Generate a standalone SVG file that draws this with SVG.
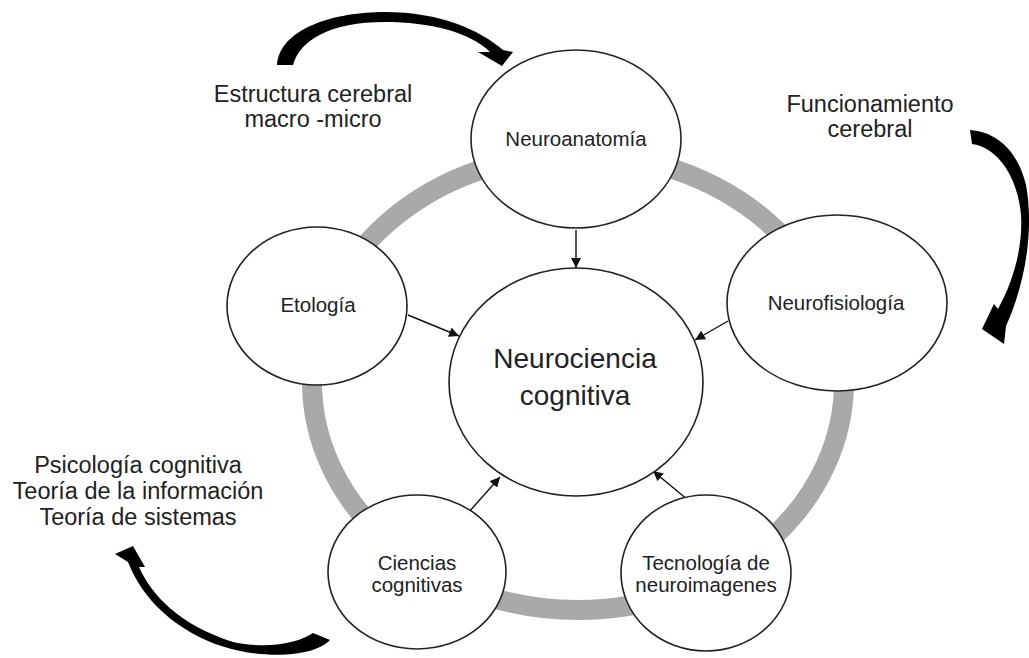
<svg xmlns="http://www.w3.org/2000/svg" width="1029" height="658" viewBox="0 0 1029 658">
  <defs>
    <marker id="head" viewBox="0 0 10 10" refX="10" refY="5" markerWidth="10" markerHeight="10" markerUnits="userSpaceOnUse" orient="auto">
      <path d="M0,0 L10,5 L0,10 Z" fill="#111"/>
    </marker>
  </defs>
  <style>
    .node { fill: #fff; stroke: #222; stroke-width: 1.6; }
    .lbl { font-family: "Liberation Sans", Arial, sans-serif; fill: #222; text-anchor: middle; }
    .small { font-size: 20.5px; }
    .side { font-size: 23.5px; }
    .big { font-size: 28px; }
    .link { stroke: #111; stroke-width: 1.4; fill: none; marker-end: url(#head); }
    .swoosh { fill: #000; }
  </style>
  <rect width="1029" height="658" fill="#fff"/>

  <!-- grey ring behind the nodes -->
  <ellipse cx="578" cy="382" rx="266" ry="228" fill="none" stroke="#a9a9a9" stroke-width="20"/>

  <!-- big curved arrows -->
  <g id="swooshes">
    <path class="swoosh" d="M277,65 C280,28 335,12 385,12 C440,12 480,30 503,50 L513,52 L502,66 L478,52 L490,52 C470,32 430,22 385,22 C330,22 300,40 293,65 Z"/>
    <path class="swoosh" d="M970,130 C998,132 1018,152 1026,185 C1034,228 1026,282 1006,326 L1004,344 L982,329 L994,304 L998,309 C1013,282 1023,248 1021,215 C1018,180 1000,148 972,144 Z"/>
    <path class="swoosh" d="M330,640 C312,660 240,662 190,632 C160,614 140,592 128,562 L115,554 L133,546 L145,567 L139,567 C152,596 180,625 233,642 C270,650 300,642 313,633 Z"/>
  </g>

  <!-- side captions -->
  <g id="captions" class="lbl side">
    <text x="313" y="102">Estructura cerebral</text>
    <text x="313" y="127">macro -micro</text>
    <text x="870" y="112">Funcionamiento</text>
    <text x="870" y="137">cerebral</text>
    <text x="138" y="473">Psicología cognitiva</text>
    <text x="138" y="499">Teoría de la información</text>
    <text x="138" y="525">Teoría de sistemas</text>
  </g>

  <!-- connectors into the central node -->
  <g id="connectors">
    <line class="link" x1="576" y1="230" x2="576" y2="268"/>
    <line class="link" x1="408" y1="315" x2="459" y2="336"/>
    <line class="link" x1="728" y1="321" x2="695" y2="340"/>
    <line class="link" x1="468" y1="513" x2="500" y2="477"/>
    <line class="link" x1="688" y1="500" x2="653" y2="471"/>
  </g>

  <g id="neuroanatomia">
    <ellipse class="node" cx="576" cy="139" rx="105" ry="89"/>
    <text class="lbl small" x="576" y="146">Neuroanatomía</text>
  </g>
  <g id="etologia">
    <ellipse class="node" cx="317" cy="306" rx="90" ry="79"/>
    <text class="lbl small" x="318" y="312">Etología</text>
  </g>
  <g id="neurofisiologia">
    <ellipse class="node" cx="837" cy="303" rx="110" ry="88"/>
    <text class="lbl small" x="836" y="310">Neurofisiología</text>
  </g>
  <g id="neurociencia">
    <ellipse class="node" cx="576" cy="382" rx="127" ry="114"/>
    <text class="lbl big" x="575" y="368">Neurociencia</text>
    <text class="lbl big" x="575" y="405">cognitiva</text>
  </g>
  <g id="ciencias">
    <ellipse class="node" cx="417" cy="572" rx="89" ry="77"/>
    <text class="lbl small" x="417" y="570">Ciencias</text>
    <text class="lbl small" x="417" y="592">cognitivas</text>
  </g>
  <g id="tecnologia">
    <ellipse class="node" cx="706" cy="573" rx="85" ry="78"/>
    <text class="lbl small" x="706" y="570">Tecnología de</text>
    <text class="lbl small" x="706" y="592">neuroimagenes</text>
  </g>
</svg>
